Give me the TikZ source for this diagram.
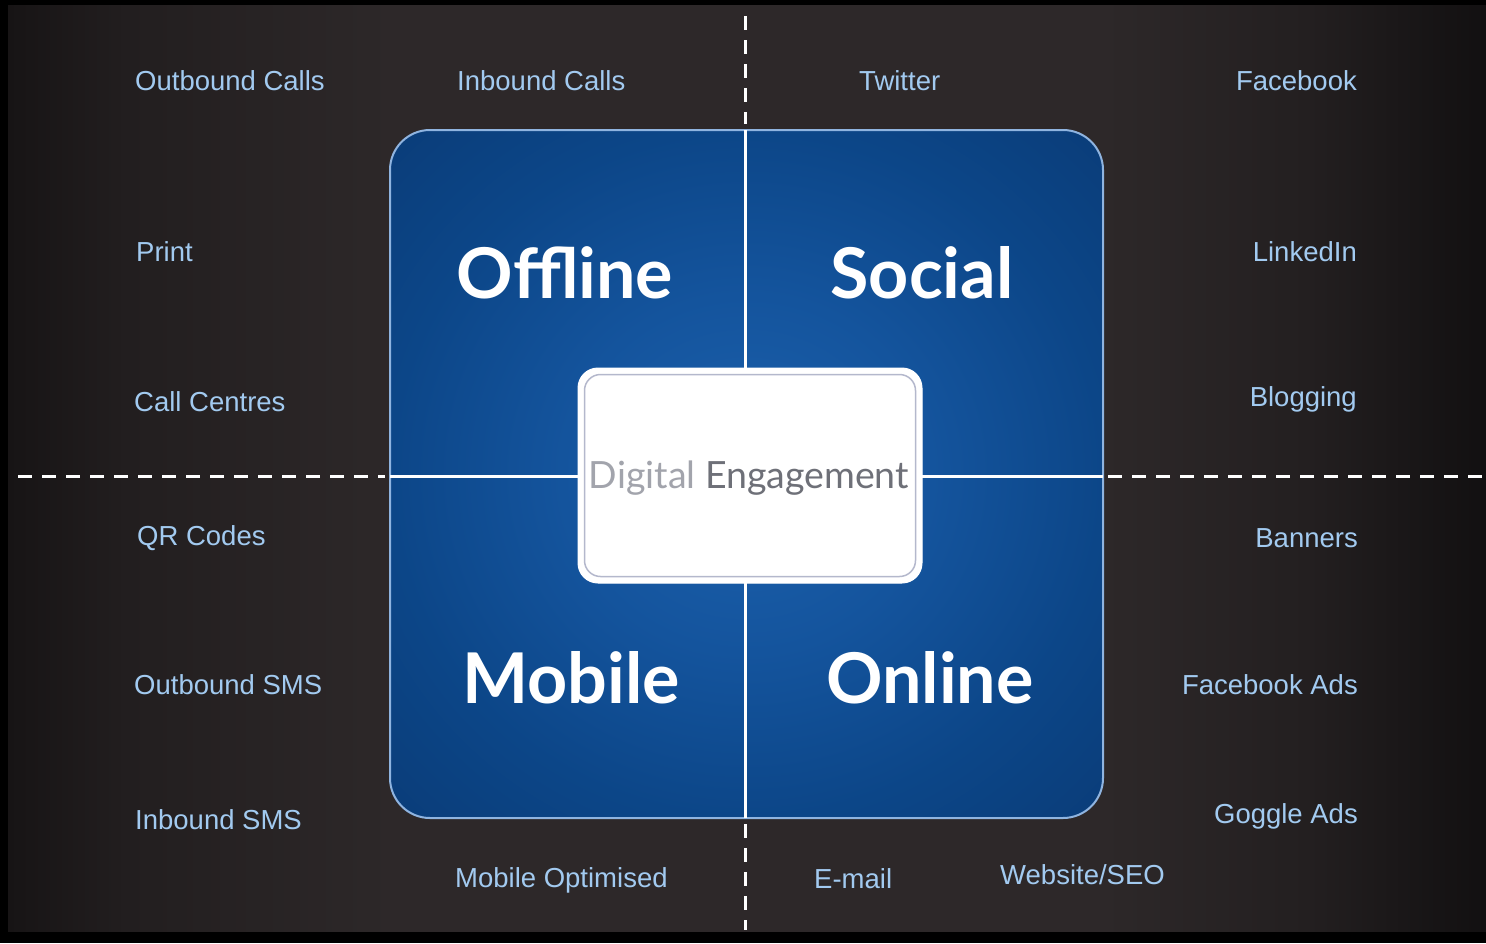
\documentclass[tikz,border=0pt]{standalone}
\usepackage{fontspec}
\setmainfont{Liberation Sans}
\newfontfamily\quadfont{Lato}
\usetikzlibrary{calc}
\definecolor{panelE}{HTML}{171415}
\definecolor{panelF}{HTML}{221E1F}
\definecolor{panelM}{HTML}{2D2829}
\definecolor{panelG}{HTML}{231F20}
\definecolor{panelH}{HTML}{121011}
\definecolor{blueA}{HTML}{1C61AD}
\definecolor{blueB}{HTML}{14549D}
\definecolor{blueC}{HTML}{0C4688}
\definecolor{blueD}{HTML}{0A3C78}
\definecolor{blueEdge}{HTML}{8FB4E0}
\definecolor{labcol}{HTML}{A2CAF0}
\definecolor{digA}{HTML}{A2A4AC}
\definecolor{digB}{HTML}{6E7078}
\definecolor{coreEdge}{HTML}{B4B8CC}
\pgfdeclarehorizontalshading{panelshade}{100bp}{color(0bp)=(panelE); color(25bp)=(panelE); color(29bp)=(panelF); color(38bp)=(panelM); color(62bp)=(panelM); color(69bp)=(panelG); color(75bp)=(panelH); color(100bp)=(panelH)}
\pgfdeclareradialshading{blueshade}{\pgfpoint{0bp}{0bp}}{color(0bp)=(blueA); color(13bp)=(blueB); color(25bp)=(blueC); color(36bp)=(blueD); color(50bp)=(blueD)}
\tikzset{
  lab/.style={text=labcol, font=\fontsize{27.5}{30}\selectfont, inner sep=0pt},
  quad/.style={text=white, font=\quadfont\bfseries\fontsize{70}{76}\selectfont, inner sep=0pt, anchor=base},
  divider/.style={draw=white, line width=3pt},
  dashdiv/.style={draw=white, line width=3pt, dash pattern=on 14pt off 10pt},
}
\begin{document}
\begin{tikzpicture}[x=1pt,y=-1pt]
\useasboundingbox (0,0) rectangle (1486,943);
\fill[black] (0,0) rectangle (1486,943);
\shade[shading=panelshade] (8,5) rectangle (1486,931);

% blue square
\node[draw=blueEdge, line width=2pt, rounded corners=40pt, shading=blueshade,
      minimum width=713pt, minimum height=688pt, inner sep=0pt] (sq) at (746.5,474) {};
\coordinate (vt) at (745,130);
\coordinate (vb) at (745,818);
\coordinate (hl) at (390,476);
\coordinate (hr) at (1103,476);
\draw[divider] (vt) -- (vb);
\draw[divider] (hl) -- (hr);

% dashed continuations
\coordinate (dtop) at (745,16);
\coordinate (dtopend) at (745,124);
\coordinate (dbot) at (745,824);
\coordinate (dbotend) at (745,930);
\coordinate (dl) at (18,476);
\coordinate (dlend) at (385,476);
\coordinate (dr) at (1108,476);
\coordinate (drend) at (1486,476);
\draw[dashdiv] (dtop) -- (dtopend);
\draw[dashdiv] (dbot) -- (dbotend);
\draw[dashdiv] (dl) -- (dlend);
\draw[dashdiv] (dr) -- (drend);

% quadrant words
\node[quad] (offline) at (565,298) {Offline};
\node[quad] (social) at (922,298) {Social};
\node[quad] (mobile) at (571,703) {Mobile};
\node[quad] (online) at (930,703) {Online};

% centre box
\node[draw=white, fill=white, line width=1pt, rounded corners=20pt,
      minimum width=344pt, minimum height=215pt, inner sep=0pt] (core) at (750,475.5) {};
\draw[coreEdge, line width=1.5pt, rounded corners=16pt]
  ($(core.north west)+(7,7)$) rectangle ($(core.south east)+(-7,-7)$);
\node[inner sep=0pt, anchor=base, font=\quadfont\fontsize{37.5}{40}\selectfont] (dig) at (749,488)
  {\textcolor{digA}{Digital} \textcolor{digB}{Engagement}};

% left column
\node[lab, anchor=base west] (oc) at (135,90) {Outbound Calls};
\node[lab, anchor=base west] (print) at (136,261) {Print};
\node[lab, anchor=base west] (cc) at (134,411) {Call Centres};
\node[lab, anchor=base west] (qr) at (137,545) {QR Codes};
\node[lab, anchor=base west] (osms) at (134,694) {Outbound SMS};
\node[lab, anchor=base west] (isms) at (135,829) {Inbound SMS};
% top
\node[lab, anchor=base west] (ic) at (457,90) {Inbound Calls};
\node[lab, anchor=base west] (tw) at (859,90) {Twitter};
% right column
\node[lab, anchor=base east] (fb) at (1357,90) {Facebook};
\node[lab, anchor=base east] (li) at (1357,261) {LinkedIn};
\node[lab, anchor=base east] (blog) at (1357,406) {Blogging};
\node[lab, anchor=base east] (ban) at (1358,547) {Banners};
\node[lab, anchor=base east] (fba) at (1358,694) {Facebook Ads};
\node[lab, anchor=base east] (ga) at (1358,823) {Goggle Ads};
% bottom
\node[lab, anchor=base west] (mo) at (455,887) {Mobile Optimised};
\node[lab, anchor=base west] (em) at (814,888) {E-mail};
\node[lab, anchor=base west] (seo) at (1000,884) {Website/SEO};
\end{tikzpicture}
\end{document}
